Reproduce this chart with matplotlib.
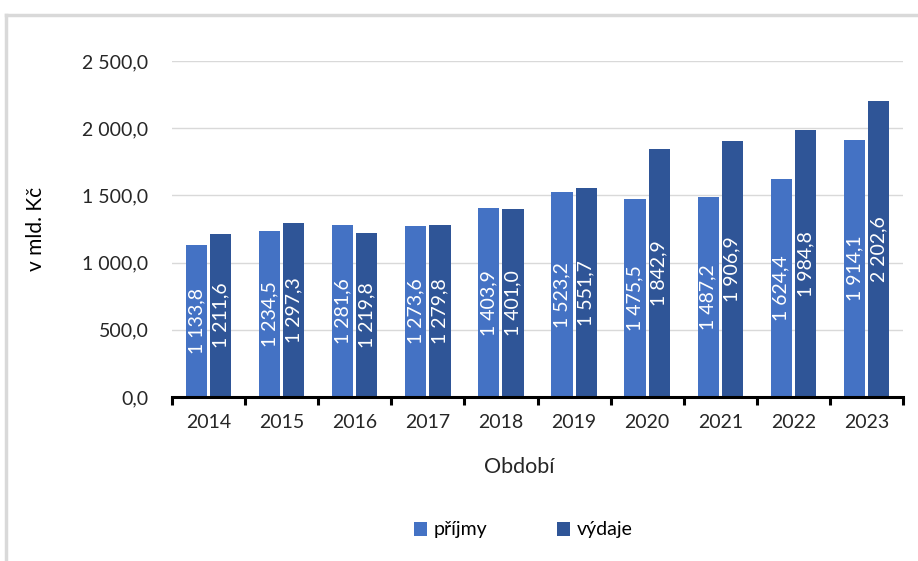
import numpy as np
import matplotlib.pyplot as plt
from matplotlib.lines import Line2D

plt.rcParams['font.family'] = ['Lato', 'DejaVu Sans']

years = ['2014', '2015', '2016', '2017', '2018', '2019', '2020', '2021', '2022', '2023']
prijmy = [1133.8, 1234.5, 1281.6, 1273.6, 1403.9, 1523.2, 1475.5, 1487.2, 1624.4, 1914.1]
vydaje = [1211.6, 1297.3, 1219.8, 1279.8, 1401.0, 1551.7, 1842.9, 1906.9, 1984.8, 2202.6]

c_prijmy = '#4472c4'
c_vydaje = '#2f5597'


def cz(v):
    # czech number format: space as thousands separator, comma decimal
    s = f'{v:,.1f}'
    return s.replace(',', ' ').replace('.', ',')


fig = plt.figure(figsize=(9.18, 5.61), dpi=100)
ax = fig.add_axes([172 / 918, 1 - 397 / 561, (903 - 172) / 918, (397 - 61) / 561])

x = np.arange(len(years))
w = 0.29
off = 0.165
b1 = ax.bar(x - off, prijmy, w, color=c_prijmy, label='příjmy')
b2 = ax.bar(x + off, vydaje, w, color=c_vydaje, label='výdaje')

for bars, vals in ((b1, prijmy), (b2, vydaje)):
    for rect, v in zip(bars, vals):
        ax.text(rect.get_x() + rect.get_width() / 2, v / 2, cz(v), rotation=90,
                ha='center', va='center', color='white', fontsize=14)

ax.set_xlim(-0.5, len(years) - 0.5)
ax.set_ylim(0, 2500)
ax.set_yticks(np.arange(0, 2501, 500))
ax.set_yticklabels([cz(v) for v in np.arange(0, 2501, 500)], fontsize=14, color='#262626')
ax.yaxis.grid(True, color='#d9d9d9', linewidth=1)
ax.set_axisbelow(True)
ax.tick_params(axis='y', length=0, pad=17)

ax.set_xticks(x)
ax.set_xticklabels(years, fontsize=14, color='#262626')
ax.tick_params(axis='x', length=0, pad=12)
ax.set_xticks(np.arange(-0.5, len(years)), minor=True)
ax.tick_params(axis='x', which='minor', length=6, width=2.2, color='black')

for s in ('top', 'right', 'left'):
    ax.spines[s].set_visible(False)
ax.spines['bottom'].set_linewidth(2.2)

ax.set_ylabel('v mld. Kč', fontsize=15, color='black')
ax.yaxis.set_label_coords(-0.173, 0.5)
ax.set_xlabel('Období', fontsize=15.5, color='#262626')
ax.xaxis.set_label_coords(0.475, -0.18)

fig.legend(handles=[b1, b2], loc='center', bbox_to_anchor=(523 / 918, 1 - 530 / 561),
           ncol=2, frameon=False, fontsize=14, handlelength=0.7, handleheight=0.7,
           handletextpad=0.3, columnspacing=3.6)

# chart area frame (left and top edges visible)
fig.add_artist(Line2D([6 / 918, 6 / 918], [0, 1 - 15 / 561], color='#d9d9d9', lw=2.5,
                      transform=fig.transFigure))
fig.add_artist(Line2D([6 / 918, 1], [1 - 15 / 561, 1 - 15 / 561], color='#d9d9d9', lw=2.5,
                      transform=fig.transFigure))

fig.savefig('out.png', dpi=100)
